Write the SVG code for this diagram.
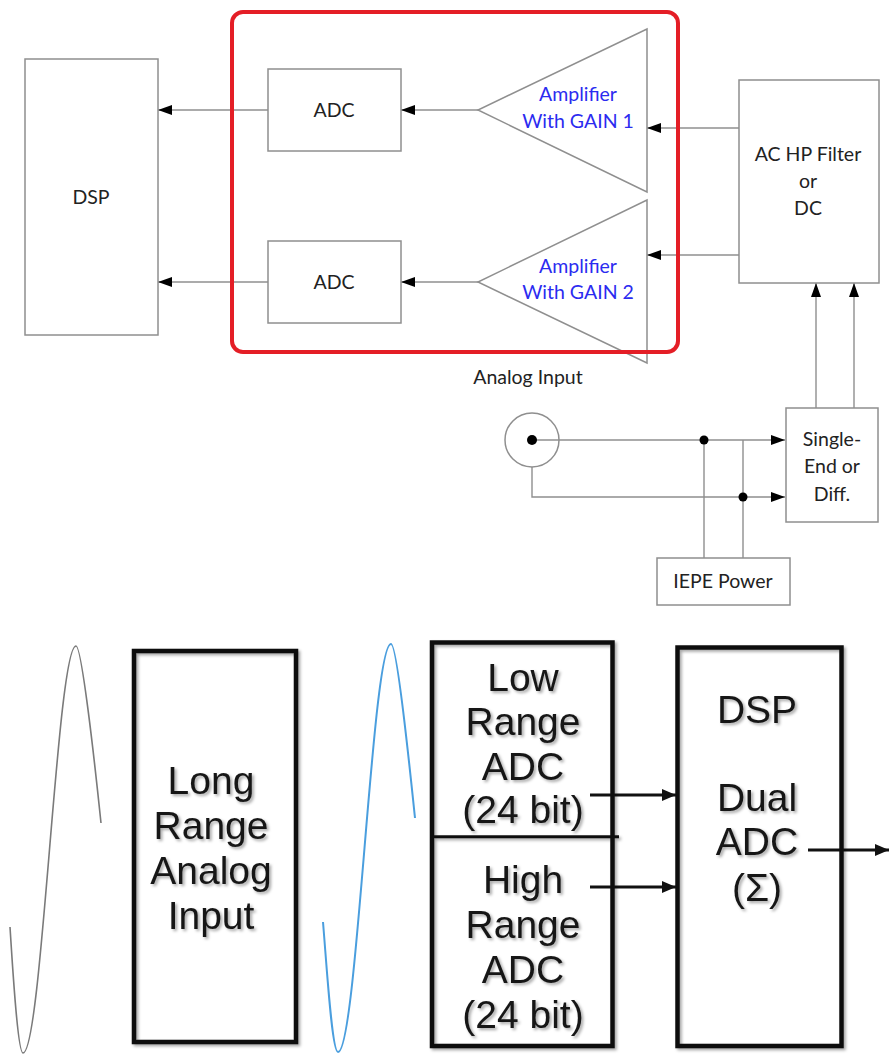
<svg xmlns="http://www.w3.org/2000/svg" width="890" height="1055" viewBox="0 0 890 1055">
<style>
.box{fill:#fff;stroke:#8f8f8f;stroke-width:1.5}
.wire{fill:none;stroke:#8f8f8f;stroke-width:1.4}
.t{font-family:Lato,"Open Sans",sans-serif;font-size:19.5px;fill:#222;text-anchor:middle}
.amp{fill:#2b2bf0}
.big{font-family:"Liberation Sans",Arial,sans-serif;font-size:39px;fill:#161616;text-anchor:middle}
.heavy{fill:none;stroke:#111;stroke-width:4.5}
.barrow{fill:none;stroke:#111;stroke-width:3}
</style>
<defs>
<marker id="ah" markerUnits="userSpaceOnUse" markerWidth="16" markerHeight="12" refX="14" refY="5" orient="auto">
<path d="M0,0 L14,5 L0,10 Z" fill="#000"/>
</marker>
<marker id="bh" markerUnits="userSpaceOnUse" markerWidth="16" markerHeight="14" refX="14" refY="6" orient="auto">
<path d="M0,0 L14,6 L0,12 Z" fill="#111"/>
</marker>
<filter id="sh" x="-10%" y="-10%" width="130%" height="130%">
<feDropShadow dx="2" dy="2" stdDeviation="1.5" flood-color="#000" flood-opacity="0.35"/>
</filter>
</defs>
<rect width="890" height="1055" fill="#fff"/>

<g id="connectors">
<path class="wire" d="M268,110 H158" marker-end="url(#ah)"/>
<path class="wire" d="M268,282 H158" marker-end="url(#ah)"/>
<path class="wire" d="M478,110 H401" marker-end="url(#ah)"/>
<path class="wire" d="M478,282 H401" marker-end="url(#ah)"/>
<path class="wire" d="M739,128 H647" marker-end="url(#ah)"/>
<path class="wire" d="M739,255 H647" marker-end="url(#ah)"/>
<path class="wire" d="M816,408 V283" marker-end="url(#ah)"/>
<path class="wire" d="M854,408 V283" marker-end="url(#ah)"/>
<path class="wire" d="M532,440 H785" marker-end="url(#ah)"/>
<path class="wire" d="M532,467 V497 H785" marker-end="url(#ah)"/>
<path class="wire" d="M704,440 V558"/>
<path class="wire" d="M743,440 V558"/>
<circle cx="704" cy="440" r="4.5" fill="#000"/>
<circle cx="743" cy="497" r="4.5" fill="#000"/>
<path class="barrow" d="M590,795 H676" marker-end="url(#bh)"/>
<path class="barrow" d="M590,887 H676" marker-end="url(#bh)"/>
<path class="barrow" d="M808,850 H889" marker-end="url(#bh)"/>
</g>

<g id="dsp-top">
<rect class="box" x="25" y="59" width="133" height="276"/>
<text class="t" x="91" y="204">DSP</text>
</g>
<g id="adc1">
<rect class="box" x="268" y="69" width="133" height="82"/>
<text class="t" x="334" y="117">ADC</text>
</g>
<g id="adc2">
<rect class="box" x="268" y="241" width="133" height="82"/>
<text class="t" x="334" y="289">ADC</text>
</g>
<g id="amp1">
<path class="box" d="M647,29 V192 L478,110 Z" fill="none"/>
<text class="t amp" x="578" y="101">Amplifier</text>
<text class="t amp" x="578" y="128">With GAIN 1</text>
</g>
<g id="amp2">
<path class="box" d="M647,200 V363 L478,282 Z" fill="none"/>
<text class="t amp" x="578" y="273">Amplifier</text>
<text class="t amp" x="578" y="299">With GAIN 2</text>
</g>
<g id="analog-input-frame">
<rect x="232" y="12" width="446" height="340" rx="11" fill="none" stroke="#e41e26" stroke-width="4"/>
<text class="t" x="528" y="384">Analog Input</text>
</g>
<g id="filter">
<rect class="box" x="739" y="80" width="140" height="203"/>
<text class="t" x="808" y="161">AC HP Filter</text>
<text class="t" x="808" y="188">or</text>
<text class="t" x="808" y="215">DC</text>
</g>
<g id="connector-jack">
<circle cx="532" cy="440" r="27" fill="none" stroke="#8f8f8f" stroke-width="1.5"/>
<circle cx="532" cy="440" r="5" fill="#000"/>
</g>
<g id="single-end">
<rect class="box" x="786" y="408" width="92" height="114"/>
<text class="t" x="832" y="446">Single-</text>
<text class="t" x="832" y="473">End or</text>
<text class="t" x="832" y="501">Diff.</text>
</g>
<g id="iepe">
<rect class="box" x="657" y="558" width="133" height="47"/>
<text class="t" x="723" y="588">IEPE Power</text>
</g>

<g id="wave-grey">
<path d="M10,927 C13,975 18,1053 23,1053 C42,1053 57,646 76,646 C82,646 96,775 101,823" fill="none" stroke="#7a7a7a" stroke-width="1.6"/>
</g>
<g id="long-range" filter="url(#sh)">
<rect class="heavy" x="134" y="651" width="162" height="391"/>
<text class="big" x="211" y="794">Long</text>
<text class="big" x="211" y="839">Range</text>
<text class="big" x="211" y="884">Analog</text>
<text class="big" x="211" y="929">Input</text>
</g>
<g id="wave-blue">
<path d="M323,922 C327,970 332,1052 338,1052 C357,1052 372,644 391,644 C397,644 410,770 415,818" fill="none" stroke="#4a9ede" stroke-width="2"/>
</g>
<g id="dual-adc" filter="url(#sh)">
<rect class="heavy" x="432" y="642.5" width="180.5" height="403.5"/>
<path d="M432,836.7 H619" stroke="#111" stroke-width="3"/>
<text class="big" x="523" y="691">Low</text>
<text class="big" x="523" y="735">Range</text>
<text class="big" x="523" y="780">ADC</text>
<text class="big" x="523" y="823">(24 bit)</text>
<text class="big" x="523" y="893">High</text>
<text class="big" x="523" y="938">Range</text>
<text class="big" x="523" y="983">ADC</text>
<text class="big" x="523" y="1028">(24 bit)</text>
</g>
<g id="dsp-bottom" filter="url(#sh)">
<rect class="heavy" x="677.5" y="647.5" width="164" height="398.5"/>
<text class="big" x="757" y="723">DSP</text>
<text class="big" x="757" y="811">Dual</text>
<text class="big" x="757" y="855">ADC</text>
<text class="big" x="757" y="901">(Σ)</text>
</g>
</svg>
